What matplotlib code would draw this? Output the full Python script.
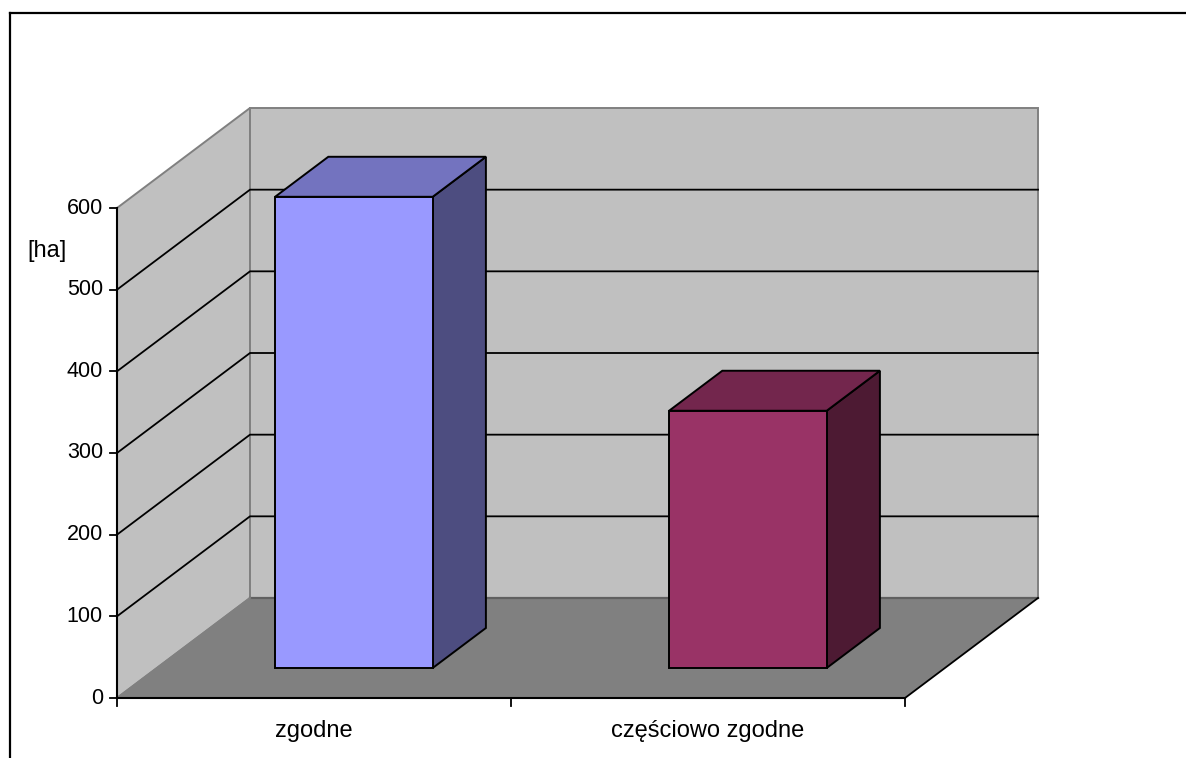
import matplotlib
matplotlib.use("Agg")
import matplotlib.pyplot as plt
from matplotlib.patches import Polygon

plt.rcParams['font.family'] = ['Liberation Sans', 'DejaVu Sans']

# Data
categories = ["zgodne", "częściowo zgodne"]
values = [577, 315]
y_ticks = [0, 100, 200, 300, 400, 500, 600]
y_unit = "[ha]"
front_colors = ["#9999FF", "#993366"]
top_colors = ["#7373BF", "#73264D"]
side_colors = ["#4D4D80", "#4D1A33"]

# Layout of the pseudo-3D frame (figure pixel space)
W, H = 1186, 758
X0, Y0 = 117, 698          # front-left corner of the floor
VMAX = 600
PX_PER_UNIT = 490 / VMAX
CAT_W = 394
DEPTH_DX, DEPTH_DY = 133, -100
BAR_D0, BAR_D1 = 0.3, 0.7  # bar depth span
BAR_FRAC = 0.4             # bar width as a fraction of the category slot

WALL = "#C0C0C0"
FLOOR = "#808080"
EDGE = "#808080"
TICK_FS = 15.5
LABEL_FS = 17


def proj(u, v, d):
    """Category position u, value v, depth fraction d -> figure pixels."""
    return (X0 + u * CAT_W + d * DEPTH_DX, Y0 - v * PX_PER_UNIT + d * DEPTH_DY)


fig = plt.figure(figsize=(W / 100, H / 100), dpi=100)
ax = fig.add_axes([0, 0, 1, 1])
ax.set_xlim(0, W)
ax.set_ylim(H, 0)
ax.axis("off")

n = len(categories)

# Walls and floor
left_wall = [proj(0, 0, 0), proj(0, 0, 1), proj(0, VMAX, 1), proj(0, VMAX, 0)]
back_wall = [proj(0, 0, 1), proj(n, 0, 1), proj(n, VMAX, 1), proj(0, VMAX, 1)]
floor = [proj(0, 0, 0), proj(n, 0, 0), proj(n, 0, 1), proj(0, 0, 1)]
ax.add_patch(Polygon(left_wall, closed=True, fc=WALL, ec=EDGE, lw=1.4, zorder=1))
ax.add_patch(Polygon(back_wall, closed=True, fc=WALL, ec=EDGE, lw=1.4, zorder=1))
ax.add_patch(Polygon(floor, closed=True, fc=FLOOR, ec="none", zorder=1))

# Gridlines on the walls
for v in y_ticks[1:-1]:
    pts = [proj(0, v, 0), proj(0, v, 1), proj(n, v, 1)]
    ax.plot([p[0] for p in pts], [p[1] for p in pts], color="black", lw=1.3, zorder=2)

# Floor edges
p_a, p_b = proj(0, 0, 1), proj(n, 0, 1)
ax.plot([p_a[0], p_b[0]], [p_a[1], p_b[1]], color="#606060", lw=1.6, zorder=2)
p_a, p_b = proj(0, 0, 0), proj(0, 0, 1)
ax.plot([p_a[0], p_b[0]], [p_a[1], p_b[1]], color=EDGE, lw=1.4, zorder=2)
p_a, p_b = proj(n, 0, 0), proj(n, 0, 1)
ax.plot([p_a[0], p_b[0]], [p_a[1], p_b[1]], color="black", lw=1.3, zorder=2)

# Value axis
p_a, p_b = proj(0, 0, 0), proj(0, VMAX, 0)
ax.plot([p_a[0], p_b[0]], [p_a[1], p_b[1]], color="black", lw=1.5, zorder=3)
for v in y_ticks:
    x, y = proj(0, v, 0)
    ax.plot([x - 7, x], [y, y], color="black", lw=1.3, zorder=3)
    ax.text(x - 14, y, f"{v}", ha="right", va="center", fontsize=TICK_FS, zorder=3)
x, y = proj(0, 0.912 * VMAX, 0)
ax.text(x - 90, y, y_unit, ha="left", va="center", fontsize=LABEL_FS)

# Category axis
p_a, p_b = proj(0, 0, 0), proj(n, 0, 0)
ax.plot([p_a[0], p_b[0]], [p_a[1], p_b[1]], color="black", lw=1.5, zorder=3)
for i in range(n + 1):
    x, y = proj(i, 0, 0)
    ax.plot([x, x], [y, y + 8], color="black", lw=1.3, zorder=3)
for i, name in enumerate(categories):
    x, y = proj(i + 0.5, 0, 0)
    ax.text(x, y + 33, name, ha="center", va="center", fontsize=LABEL_FS)

# Bars
for i, val in enumerate(values):
    u0 = i + (1 - BAR_FRAC) / 2
    u1 = u0 + BAR_FRAC
    front = [proj(u0, 0, BAR_D0), proj(u1, 0, BAR_D0), proj(u1, val, BAR_D0), proj(u0, val, BAR_D0)]
    top = [proj(u0, val, BAR_D0), proj(u1, val, BAR_D0), proj(u1, val, BAR_D1), proj(u0, val, BAR_D1)]
    side = [proj(u1, 0, BAR_D0), proj(u1, 0, BAR_D1), proj(u1, val, BAR_D1), proj(u1, val, BAR_D0)]
    ax.add_patch(Polygon(side, closed=True, fc=side_colors[i], ec="black", lw=1.4, zorder=4, joinstyle="miter"))
    ax.add_patch(Polygon(top, closed=True, fc=top_colors[i], ec="black", lw=1.4, zorder=4, joinstyle="miter"))
    ax.add_patch(Polygon(front, closed=True, fc=front_colors[i], ec="black", lw=1.4, zorder=5, joinstyle="miter"))

# Chart frame (top and left edges)
ax.plot([10, W], [12.5, 12.5], color="black", lw=1.6, zorder=6)
ax.plot([10, 10], [12.5, H], color="black", lw=1.6, zorder=6)

fig.savefig("out.png", dpi=100)
